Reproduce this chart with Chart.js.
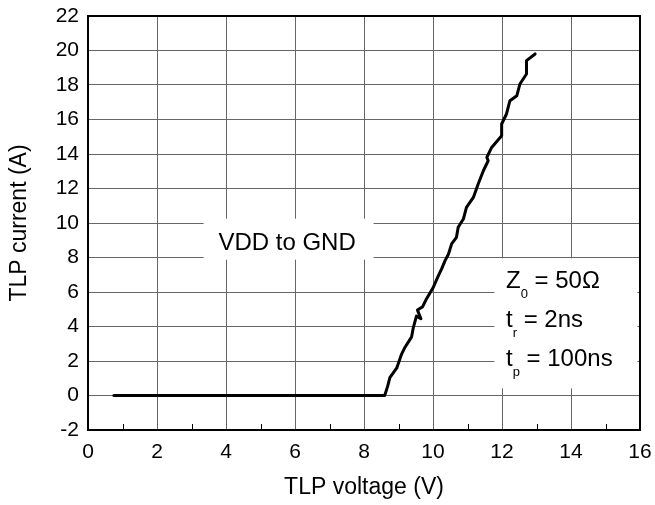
<!DOCTYPE html>
<html>
<head>
<meta charset="utf-8">
<script src="https://cdn.jsdelivr.net/npm/chart.js@4.4.0/dist/chart.umd.min.js"></script>
<style>
  html, body { margin: 0; padding: 0; background: #fff; }
  #wrap { width: 655px; height: 505px; }
</style>
</head>
<body>
<div id="wrap"><canvas id="tlp"></canvas></div>
<script>
// TLP I-V curve, VDD to GND
const tlpVoltage = [0.75, 8.6, 8.68, 8.75, 8.95, 9.09, 9.19, 9.38, 9.43, 9.52, 9.65, 9.55, 9.7, 9.81, 10.01, 10.16, 10.25,
    10.35, 10.45, 10.54, 10.68, 10.73, 10.88, 10.97, 11.17, 11.31, 11.46, 11.6, 11.56, 11.7, 11.99, 11.99, 12.13, 12.23,
    12.43, 12.52, 12.71, 12.71, 12.96];
const tlpCurrent = [0, 0, 0.5, 1.03, 1.6, 2.4, 2.8, 3.4, 3.94, 4.6, 4.45, 4.95, 5.15, 5.6, 6.28, 6.96, 7.34,
    7.82, 8.2, 8.79, 9.17, 9.75, 10.23, 10.9, 11.48, 12.26, 13.03, 13.61, 13.8, 14.38, 15.06, 15.74, 16.32, 17.09,
    17.38, 18.06, 18.64, 19.41, 19.8];

const xTicks = [0, 2, 4, 6, 8, 10, 12, 14, 16];
const yTicks = [-2, 0, 2, 4, 6, 8, 10, 12, 14, 16, 18, 20, 22];

const FONT = "'Liberation Sans', Arial, sans-serif";

// white label boxes, border around the plot and small minor ticks
const decorations = {
    id: 'decorations',
    beforeDatasetsDraw(chart) {
        const ctx = chart.ctx;
        const x = chart.scales.x, y = chart.scales.y;
        ctx.save();
        ctx.fillStyle = '#fff';
        // "VDD to GND" box
        ctx.fillRect(x.getPixelForValue(3.35), y.getPixelForValue(10.25), 170, 41);
        // Z0 / tr / tp box
        ctx.fillRect(x.getPixelForValue(11.78), y.getPixelForValue(7.95), 143, 130);

        // minor ticks on the bottom axis
        ctx.strokeStyle = '#000';
        ctx.lineWidth = 1;
        ctx.beginPath();
        for (let v = 1; v < 16; v += 2) {
            const px = Math.round(x.getPixelForValue(v)) + 0.5;
            ctx.moveTo(px, chart.chartArea.bottom);
            ctx.lineTo(px, chart.chartArea.bottom - 6);
        }
        ctx.stroke();

        ctx.fillStyle = '#000';
        ctx.textBaseline = 'alphabetic';
        ctx.font = '24px ' + FONT;
        ctx.textAlign = 'center';
        ctx.fillText('VDD to GND', x.getPixelForValue(5.77), y.getPixelForValue(8.45));

        ctx.textAlign = 'left';
        const left = 506;
        const lines = [
            ['Z', '0', ' = 50\u03A9', 288],
            ['t', 'r', ' = 2ns', 327],
            ['t', 'p', ' = 100ns', 366]
        ];
        lines.forEach(([main, sub, rest, base]) => {
            let cx = left;
            ctx.font = '24px ' + FONT;
            ctx.fillText(main, cx, base);
            cx += ctx.measureText(main).width;
            ctx.font = '13px ' + FONT;
            ctx.fillText(sub, cx, base + 10);
            cx += ctx.measureText(sub).width;
            ctx.font = '24px ' + FONT;
            ctx.fillText(rest, cx, base);
        });
        ctx.restore();
    },
    afterDraw(chart) {
        const { left, top, right, bottom } = chart.chartArea;
        const ctx = chart.ctx;
        ctx.save();
        ctx.strokeStyle = '#000';
        ctx.lineWidth = 2;
        ctx.strokeRect(left, top, right - left, bottom - top);
        ctx.restore();
    }
};

new Chart(document.getElementById('tlp'), {
    type: 'scatter',
    data: {
        datasets: [{
            data: tlpVoltage.map((v, i) => ({ x: v, y: tlpCurrent[i] })),
            showLine: true,
            borderColor: '#000',
            borderWidth: 3,
            pointRadius: 0,
            tension: 0,
            borderJoinStyle: 'round',
            borderCapStyle: 'round'
        }]
    },
    options: {
        responsive: true,
        maintainAspectRatio: false,
        animation: false,
        layout: { padding: { left: 0, right: 15, top: 16, bottom: 0 } },
        plugins: {
            legend: { display: false },
            tooltip: { enabled: false }
        },
        scales: {
            x: {
                type: 'linear',
                min: 0,
                max: 16,
                afterBuildTicks: s => { s.ticks = xTicks.map(v => ({ value: v })); },
                afterFit: s => { s.height = 75; s.paddingRight = 0; s.paddingLeft = 0; },
                grid: { color: '#666', lineWidth: 1, drawTicks: false },
                border: { display: false },
                ticks: { color: '#000', padding: 10, font: { family: FONT, size: 21 } },
                title: {
                    display: true,
                    text: 'TLP voltage (V)',
                    color: '#000',
                    padding: { top: 0, bottom: 4 },
                    font: { family: FONT, size: 23 }
                }
            },
            y: {
                type: 'linear',
                min: -2,
                max: 22,
                afterBuildTicks: s => { s.ticks = yTicks.map(v => ({ value: v })); },
                afterFit: s => { s.width = 88; s.paddingTop = 0; s.paddingBottom = 0; },
                grid: { color: '#666', lineWidth: 1, drawTicks: false },
                border: { display: false },
                ticks: { color: '#000', padding: 9, font: { family: FONT, size: 21 } },
                title: {
                    display: true,
                    text: 'TLP current (A)',
                    color: '#000',
                    padding: { top: 6, bottom: 0 },
                    font: { family: FONT, size: 23 }
                }
            }
        }
    },
    plugins: [decorations]
});
</script>
</body>
</html>
